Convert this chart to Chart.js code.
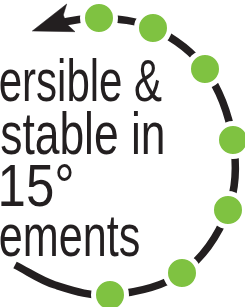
<!DOCTYPE html>
<html lang="en">
<head>
<meta charset="UTF-8">
<title>Reversible &amp; Adjustable in 15° increments</title>
<script src="https://cdn.jsdelivr.net/npm/chart.js"></script>
<style>
  html, body { margin: 0; padding: 0; background: #fff; overflow: hidden; }
  .wrap { position: relative; width: 245px; height: 307px; overflow: hidden; }
  #ring { position: absolute; left: 0; top: 0; }
  .txt {
    position: absolute;
    white-space: nowrap;
    font-family: "Liberation Sans", Arial, sans-serif;
    font-size: 60px;
    line-height: 60px;
    color: #231f20;
    transform-origin: right center;
  }
</style>
</head>
<body>
<div class="wrap">
  <canvas id="ring" width="245" height="307"></canvas>
  <div class="txt" style="top:51px; right:83px; transform: scaleX(0.70);">Reversible &amp;</div>
  <div class="txt" style="top:104px; right:79px; transform: scaleX(0.74);">Adjustable in</div>
  <div class="txt" style="top:156px; right:170px; transform: scaleX(0.85);">15°</div>
  <div class="txt" style="top:206px; right:105px; transform: scaleX(0.72);">increments</div>
</div>

<script>
// valores (origen en el centro del aro, y hacia arriba)
const stepX = [2, 56, 108, 136, 131, 85, 13];
const stepY = [139, 129, 88, 17, -53, -116, -138];
const startX = [-40];
const startY = [134];
const tailX = [-42, -82];
const tailY = [-128, -108];
const headX = [-64.7, -30.3, -33.7, -30.3, -22, -64.7];
const headY = [126, 153, 142, 133, 125.3, 126];

const black = '#231f20';
const green = '#7fc241';

const arc = [];
startX.forEach((x, i) => arc.push({x: x, y: startY[i]}));
stepX.forEach((x, i) => arc.push({x: x, y: stepY[i]}));
tailX.forEach((x, i) => arc.push({x: x, y: tailY[i]}));

const head = headX.map((x, i) => ({x: x, y: headY[i]}));

const isStep = i => i >= startX.length && i < startX.length + stepX.length;
const radius = arc.map((p, i) => isStep(i) ? 16.5 : 0);
const bw = arc.map((p, i) => isStep(i) ? 5 : 0);

new Chart(document.getElementById('ring'), {
    type: 'scatter',
    data: {
        datasets: [{
            // punta de flecha
            data: head,
            showLine: true,
            tension: 0,
            fill: 'shape',
            backgroundColor: black,
            borderColor: black,
            borderWidth: 0.5,
            pointRadius: 0,
            clip: false,
            order: 0
        }, {
            // aro con los pasos de 15°
            data: arc,
            showLine: true,
            borderColor: black,
            borderWidth: 7.5,
            tension: 0.35,
            clip: false,
            pointRadius: radius,
            pointStyle: 'circle',
            pointBackgroundColor: green,
            pointBorderColor: '#ffffff',
            pointBorderWidth: bw,
            order: 1
        }]
    },
    options: {
        responsive: false,
        animation: false,
        events: [],
        layout: { padding: 0 },
        plugins: {
            legend: { display: false },
            tooltip: { enabled: false }
        },
        scales: {
            x: { type: 'linear', display: false, bounds: 'data', min: -97, max: 148 },
            y: { type: 'linear', display: false, bounds: 'data', min: -150, max: 157 }
        }
    }
});
</script>
</body>
</html>
